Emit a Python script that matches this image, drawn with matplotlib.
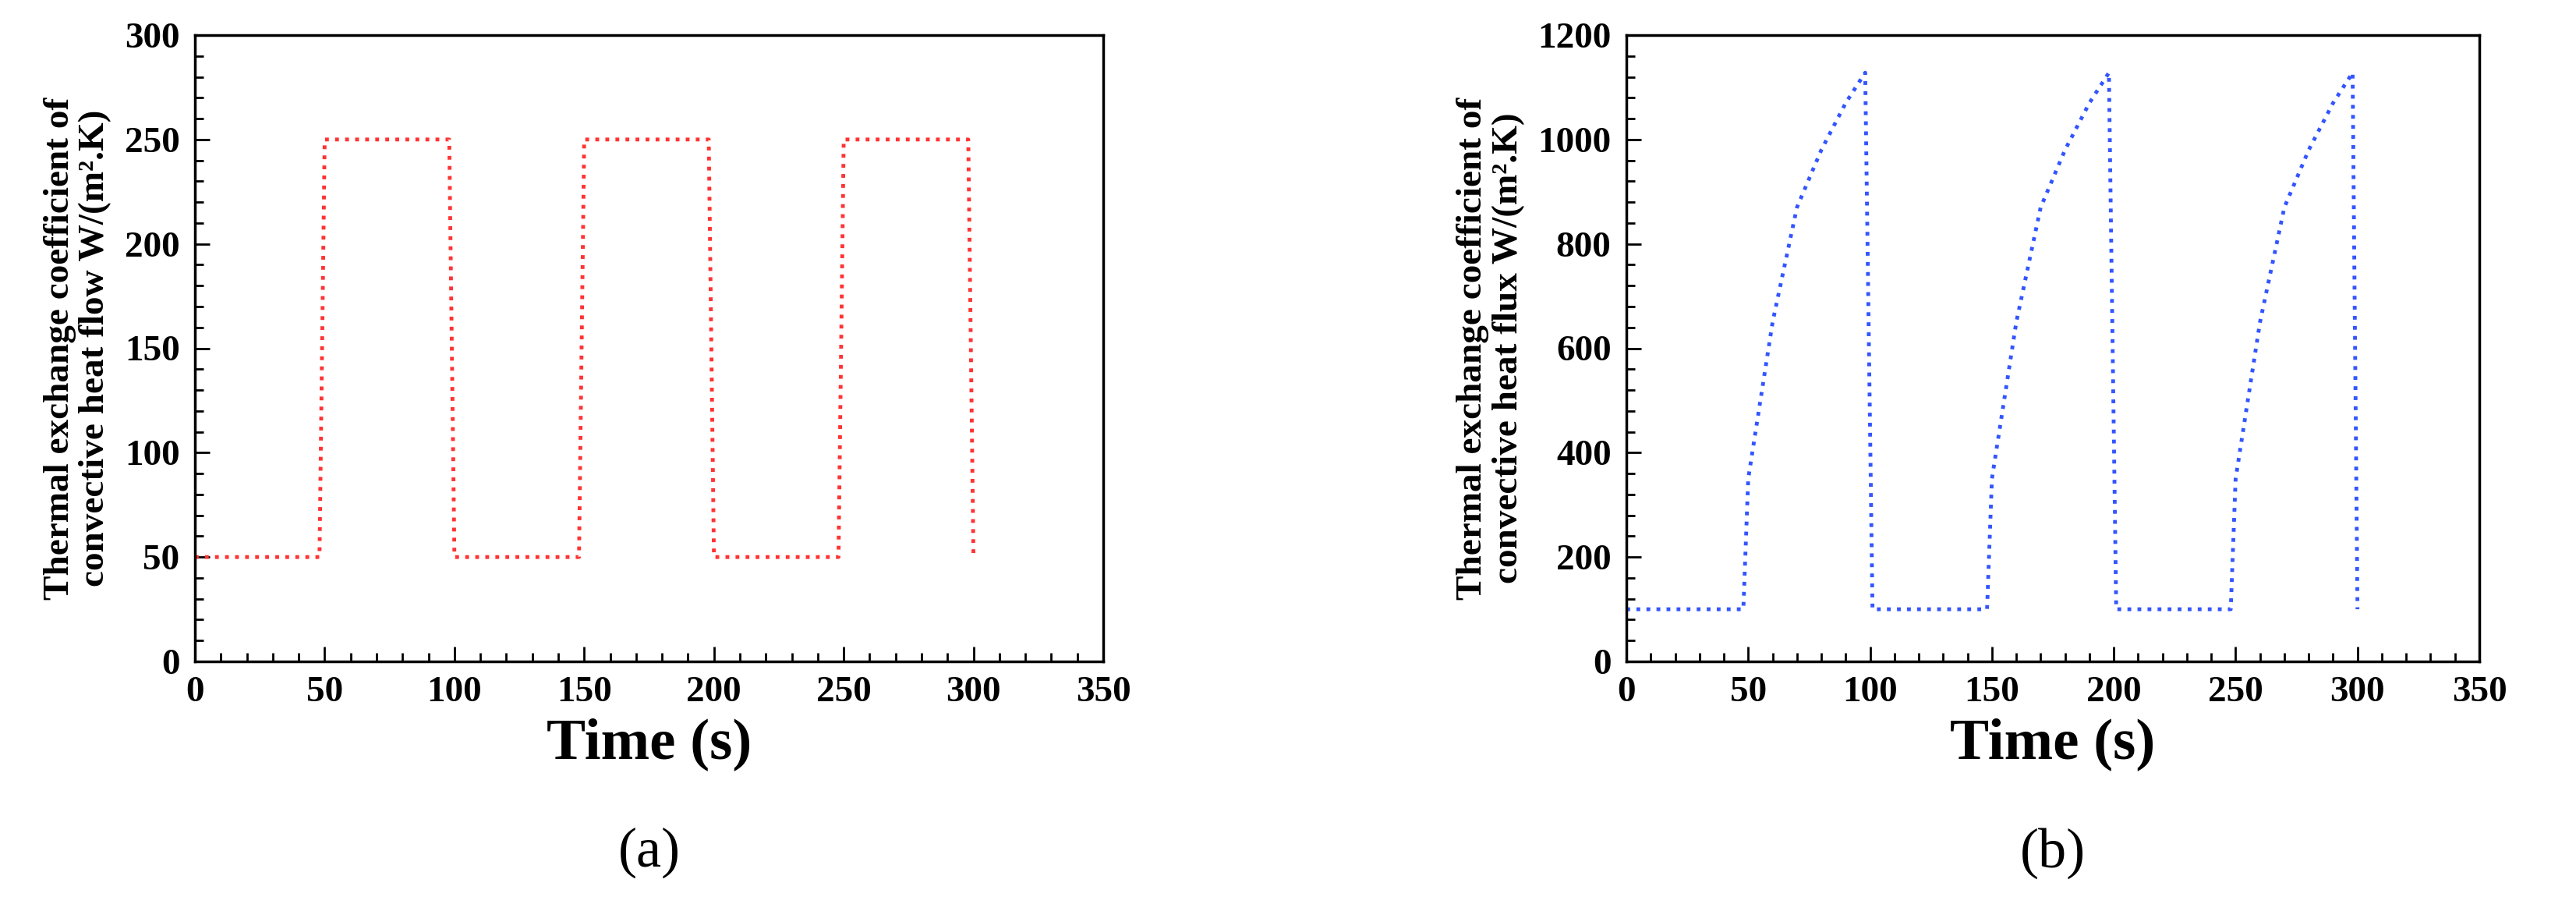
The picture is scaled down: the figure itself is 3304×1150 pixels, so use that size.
import matplotlib
matplotlib.use("Agg")
import matplotlib.pyplot as plt
from matplotlib.ticker import AutoMinorLocator

time_a = [0, 48, 50, 98, 100, 148, 150, 198, 200, 248, 250, 298, 300]
h_a = [50, 50, 250, 250, 50, 50, 250, 250, 50, 50, 250, 250, 50]

time_b = [0, 48, 50, 60, 70, 80, 90, 98, 101, 148, 150, 160, 170, 180, 190, 198, 201,
          248, 250, 260, 270, 280, 290, 298, 300]
h_b = [100, 100, 350, 650, 870, 980, 1070, 1128, 100, 100, 350, 650, 870, 980, 1070, 1128, 100,
       100, 350, 650, 870, 980, 1070, 1128, 100]

plt.rcParams['font.family'] = ['Liberation Serif', 'DejaVu Serif']
fig = plt.figure(figsize=(33.04, 11.5), dpi=100)
W, H = 3304, 1150
axa = fig.add_axes([250/W, 1-848/H, (1415-250)/W, (848-45)/H])
axb = fig.add_axes([2086/W, 1-848/H, (3180-2086)/W, (848-45)/H])

def style(ax, ymax, ystep, ylabel, label):
    ax.set_xlim(0, 350)
    ax.set_ylim(0, ymax)
    ax.set_xticks(range(0, 351, 50))
    ax.set_yticks(range(0, ymax+1, ystep))
    ax.xaxis.set_minor_locator(AutoMinorLocator(5))
    ax.yaxis.set_minor_locator(AutoMinorLocator(5))
    ax.tick_params(which='both', direction='in', top=False, right=False, width=2)
    ax.tick_params(which='major', length=14, labelsize=34, pad=14)
    ax.tick_params(which='minor', length=8)
    for lab in ax.get_xticklabels() + ax.get_yticklabels():
        lab.set_fontweight('bold')
    for s in ax.spines.values():
        s.set_linewidth(2.5)
    ax.set_xlabel('Time (s)', fontsize=54, fontweight='bold', labelpad=8)
    ax.set_ylabel(ylabel, fontsize=34, fontweight='bold', labelpad=12, linespacing=1.1)
    ax.text(0.5, -0.265, label, transform=ax.transAxes, ha='center', va='top', fontsize=52)

axa.plot(time_a, h_a, color='#FF3333', linestyle=':', linewidth=3.5)
axb.plot(time_b, h_b, color='#3355FF', linestyle=':', linewidth=3.5)
style(axa, 300, 50, 'Thermal exchange coefficient of\nconvective heat flow W/(m\u00b2.K)', '(a)')
style(axb, 1200, 200, 'Thermal exchange coefficient of\nconvective heat flux W/(m\u00b2.K)', '(b)')

fig.savefig('out.png', dpi=100)
